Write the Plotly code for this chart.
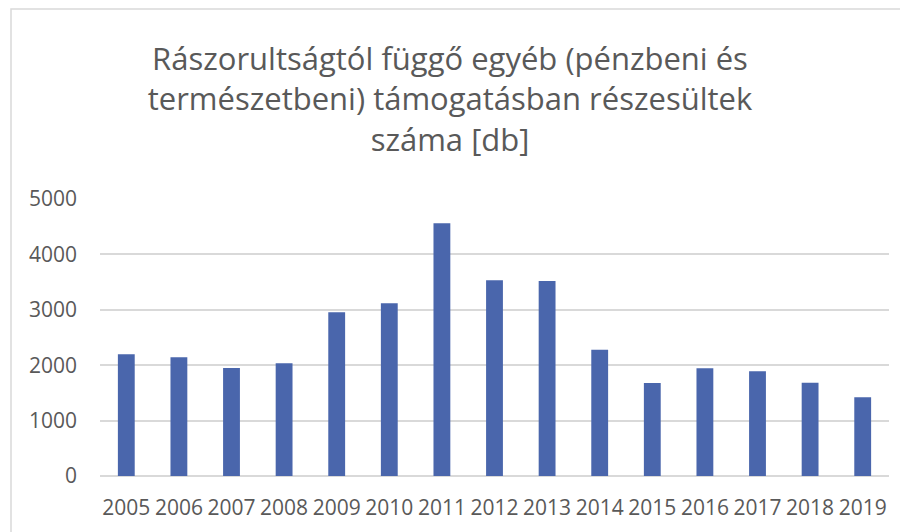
import plotly.graph_objects as go

years = ["2005", "2006", "2007", "2008", "2009", "2010", "2011", "2012",
         "2013", "2014", "2015", "2016", "2017", "2018", "2019"]
values = [2196, 2142, 1949, 2034, 2954, 3117, 4561, 3532,
          3520, 2280, 1679, 1943, 1889, 1685, 1420]
y_ticks = [0, 1000, 2000, 3000, 4000, 5000]

title_text = ("Rászorultságtól függő egyéb (pénzbeni és<br>"
              "természetbeni) támogatásban részesültek<br>"
              "száma [db]")

W, H = 900, 532
ml, mr, mt, mb = 100, 11, 199, 56
pw, ph = W - ml - mr, H - mt - mb

fig = go.Figure(go.Bar(x=years, y=values, marker=dict(color="#4A66AC", line=dict(width=0)),
                       hoverinfo="x+y"))

# chart frame (top & left visible, rest cropped)
fx0 = (11 - ml) / pw
fy1 = (H - mb - 9) / ph
fig.add_shape(type="rect", xref="paper", yref="paper", x0=fx0, x1=1.5, y0=-1, y1=fy1,
              line=dict(color="#D9D9D9", width=1.5), fillcolor="rgba(0,0,0,0)", layer="below")

fig.update_layout(
    width=W, height=H,
    margin=dict(l=ml, r=mr, t=mt, b=mb),
    paper_bgcolor="white", plot_bgcolor="white",
    font=dict(family="Open Sans", color="#595959", size=21),
    title=dict(text=title_text, x=0.5, xref="container", xanchor="center",
               y=1 - 70 / H, yanchor="middle",
               font=dict(family="Open Sans", size=31, color="#595959")),
    bargap=0.68,
    showlegend=False,
    xaxis=dict(showgrid=False, showline=False, ticks="", tickfont=dict(size=21),
               ticklabelstandoff=17),
    yaxis=dict(range=[0, 5000], tickvals=y_ticks, showgrid=True, gridcolor="#D9D9D9",
               gridwidth=1.5, zeroline=True, zerolinecolor="#D9D9D9", zerolinewidth=1.5,
               showline=False, ticks="", tickfont=dict(size=21), ticklabelstandoff=22),
)

fig.write_html("out.html", config={"displayModeBar": False},
               post_script="document.body.style.margin='0';document.body.style.overflow='hidden';")
